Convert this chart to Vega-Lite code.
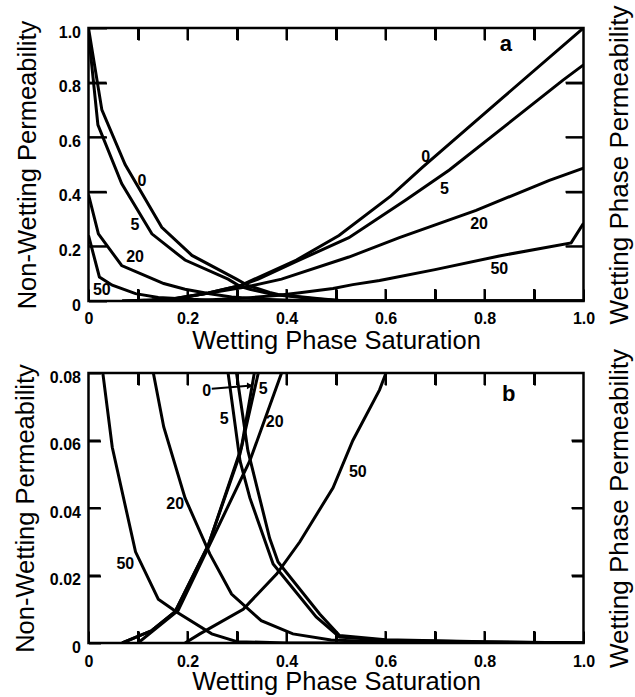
{
  "$schema": "https://vega.github.io/schema/vega-lite/v6.json",
  "padding": {"left": 11.5, "top": 3, "right": 0, "bottom": 0},
  "bounds": "flush",
  "spacing": 72,
  "config": {
    "font": "Liberation Sans",
    "view": {"stroke": "black", "strokeWidth": 2.5},
    "axis": {
      "domain": false, "grid": false,
      "labelFont": "Liberation Sans", "labelFontWeight": "bold", "labelFontSize": 16, "labelColor": "black",
      "titleFont": "Liberation Sans", "titleFontSize": 25.5, "titleFontWeight": "normal", "titleColor": "black",
      "labelOverlap": false, "labelFlush": false
    }
  },
  "datasets": {
    "curves": [
      {"s": "nw0", "x": 0, "y": 1.0}, {"s": "nw0", "x": 0.027, "y": 0.70}, {"s": "nw0", "x": 0.074, "y": 0.50}, {"s": "nw0", "x": 0.148, "y": 0.27}, {"s": "nw0", "x": 0.209, "y": 0.167}, {"s": "nw0", "x": 0.299, "y": 0.08}, {"s": "nw0", "x": 0.322, "y": 0.057}, {"s": "nw0", "x": 0.366, "y": 0.031}, {"s": "nw0", "x": 0.383, "y": 0.024}, {"s": "nw0", "x": 0.467, "y": 0.0086}, {"s": "nw0", "x": 0.507, "y": 0.0022}, {"s": "nw0", "x": 0.6, "y": 0.001}, {"s": "nw0", "x": 0.8, "y": 0.0004}, {"s": "nw0", "x": 1.0, "y": 0},
      {"s": "nw5", "x": 0, "y": 0.98}, {"s": "nw5", "x": 0.019, "y": 0.645}, {"s": "nw5", "x": 0.067, "y": 0.43}, {"s": "nw5", "x": 0.128, "y": 0.246}, {"s": "nw5", "x": 0.195, "y": 0.15}, {"s": "nw5", "x": 0.282, "y": 0.08}, {"s": "nw5", "x": 0.306, "y": 0.054}, {"s": "nw5", "x": 0.326, "y": 0.043}, {"s": "nw5", "x": 0.373, "y": 0.0234}, {"s": "nw5", "x": 0.46, "y": 0.0077}, {"s": "nw5", "x": 0.507, "y": 0.0018}, {"s": "nw5", "x": 0.6, "y": 0.0008}, {"s": "nw5", "x": 0.8, "y": 0.0003}, {"s": "nw5", "x": 1.0, "y": 0},
      {"s": "nw20", "x": 0, "y": 0.39}, {"s": "nw20", "x": 0.02, "y": 0.246}, {"s": "nw20", "x": 0.067, "y": 0.13}, {"s": "nw20", "x": 0.131, "y": 0.08}, {"s": "nw20", "x": 0.152, "y": 0.064}, {"s": "nw20", "x": 0.195, "y": 0.043}, {"s": "nw20", "x": 0.245, "y": 0.0264}, {"s": "nw20", "x": 0.289, "y": 0.0145}, {"s": "nw20", "x": 0.349, "y": 0.0066}, {"s": "nw20", "x": 0.413, "y": 0.0027}, {"s": "nw20", "x": 0.49, "y": 0.0009}, {"s": "nw20", "x": 0.6, "y": 0.0003}, {"s": "nw20", "x": 1.0, "y": 0},
      {"s": "nw50", "x": 0, "y": 0.24}, {"s": "nw50", "x": 0.022, "y": 0.088}, {"s": "nw50", "x": 0.048, "y": 0.058}, {"s": "nw50", "x": 0.095, "y": 0.027}, {"s": "nw50", "x": 0.141, "y": 0.013}, {"s": "nw50", "x": 0.178, "y": 0.0092}, {"s": "nw50", "x": 0.249, "y": 0.0027}, {"s": "nw50", "x": 0.30, "y": 0.0004}, {"s": "nw50", "x": 0.4, "y": 0}, {"s": "nw50", "x": 1.0, "y": 0},
      {"s": "w0", "x": 0.068, "y": 0}, {"s": "w0", "x": 0.128, "y": 0.0037}, {"s": "w0", "x": 0.175, "y": 0.0093}, {"s": "w0", "x": 0.242, "y": 0.029}, {"s": "w0", "x": 0.309, "y": 0.058}, {"s": "w0", "x": 0.335, "y": 0.08}, {"s": "w0", "x": 0.42, "y": 0.15}, {"s": "w0", "x": 0.506, "y": 0.24}, {"s": "w0", "x": 0.611, "y": 0.385}, {"s": "w0", "x": 0.675, "y": 0.49}, {"s": "w0", "x": 0.837, "y": 0.745}, {"s": "w0", "x": 1.0, "y": 1.0},
      {"s": "w5", "x": 0.068, "y": 0}, {"s": "w5", "x": 0.128, "y": 0.0037}, {"s": "w5", "x": 0.175, "y": 0.0093}, {"s": "w5", "x": 0.242, "y": 0.029}, {"s": "w5", "x": 0.306, "y": 0.056}, {"s": "w5", "x": 0.343, "y": 0.08}, {"s": "w5", "x": 0.42, "y": 0.145}, {"s": "w5", "x": 0.526, "y": 0.232}, {"s": "w5", "x": 0.641, "y": 0.37}, {"s": "w5", "x": 0.729, "y": 0.48}, {"s": "w5", "x": 0.958, "y": 0.808}, {"s": "w5", "x": 1.0, "y": 0.865},
      {"s": "w20", "x": 0.1, "y": 0}, {"s": "w20", "x": 0.181, "y": 0.0096}, {"s": "w20", "x": 0.241, "y": 0.028}, {"s": "w20", "x": 0.326, "y": 0.054}, {"s": "w20", "x": 0.39, "y": 0.08}, {"s": "w20", "x": 0.526, "y": 0.161}, {"s": "w20", "x": 0.628, "y": 0.232}, {"s": "w20", "x": 0.783, "y": 0.332}, {"s": "w20", "x": 0.931, "y": 0.442}, {"s": "w20", "x": 1.0, "y": 0.487},
      {"s": "w50", "x": 0.195, "y": 0}, {"s": "w50", "x": 0.225, "y": 0.0027}, {"s": "w50", "x": 0.3125, "y": 0.01}, {"s": "w50", "x": 0.38, "y": 0.0204}, {"s": "w50", "x": 0.427, "y": 0.03}, {"s": "w50", "x": 0.494, "y": 0.046}, {"s": "w50", "x": 0.534, "y": 0.06}, {"s": "w50", "x": 0.588, "y": 0.075}, {"s": "w50", "x": 0.601, "y": 0.08}, {"s": "w50", "x": 0.7, "y": 0.115}, {"s": "w50", "x": 0.83, "y": 0.165}, {"s": "w50", "x": 0.975, "y": 0.213}, {"s": "w50", "x": 1.0, "y": 0.285}
    ],
    "labA": [
      {"t": "0", "x": 0.108, "y": 0.44}, {"t": "5", "x": 0.094, "y": 0.277}, {"t": "20", "x": 0.094, "y": 0.16}, {"t": "50", "x": 0.027, "y": 0.039},
      {"t": "0", "x": 0.681, "y": 0.527}, {"t": "5", "x": 0.719, "y": 0.411}, {"t": "20", "x": 0.789, "y": 0.283}, {"t": "50", "x": 0.83, "y": 0.118}
    ],
    "tagA": [{"t": "a", "x": 0.843, "y": 0.943}],
    "labB": [
      {"t": "0", "x": 0.239, "y": 0.0748}, {"t": "5", "x": 0.353, "y": 0.0753}, {"t": "5", "x": 0.274, "y": 0.0664}, {"t": "20", "x": 0.376, "y": 0.0654},
      {"t": "20", "x": 0.175, "y": 0.0412}, {"t": "50", "x": 0.0744, "y": 0.0234}, {"t": "50", "x": 0.544, "y": 0.0506}
    ],
    "tagB": [{"t": "b", "x": 0.849, "y": 0.0738}],
    "arrow": [{"x": 0.249, "y": 0.0753}, {"x": 0.33, "y": 0.0763}],
    "arrowHead": [{"x": 0.326, "y": 0.0762}],
    "xt": [{"v": 0.1}, {"v": 0.2}, {"v": 0.3}, {"v": 0.4}, {"v": 0.5}, {"v": 0.6}, {"v": 0.7}, {"v": 0.8}, {"v": 0.9}],
    "ytA": [{"v": 0.2}, {"v": 0.4}, {"v": 0.6}, {"v": 0.8}],
    "ytB": [{"v": 0.02}, {"v": 0.04}, {"v": 0.06}]
  },
  "vconcat": [
    {
      "width": 495, "height": 273,
      "layer": [
        {
          "data": {"name": "curves"},
          "mark": {"type": "line", "color": "black", "strokeWidth": 3, "clip": true},
          "encoding": {
            "x": {"field": "x", "type": "quantitative", "scale": {"domain": [0, 1], "nice": false},
              "axis": {"orient": "bottom", "values": [0, 0.1, 0.2, 0.3, 0.4, 0.5, 0.6, 0.7, 0.8, 0.9, 1],
                "labelExpr": "round(datum.value*10)%2==0 ? (datum.value==0 ? '0' : format(datum.value,'.1f')) : ''",
                "ticks": true, "tickColor": "black", "tickWidth": 2,
                "offset": -12, "tickSize": 12, "labelPadding": 9, "title": "Wetting Phase Saturation", "titleY": 59, "titleBaseline": "alphabetic"}},
            "y": {"field": "y", "type": "quantitative", "scale": {"domain": [0, 1], "nice": false},
              "axis": {"orient": "left", "values": [0, 0.2, 0.4, 0.6, 0.8, 1],
                "labelExpr": "datum.value==0 ? '0' : format(datum.value,'.1f')",
                "ticks": true, "tickColor": "black", "tickWidth": 2,
                "offset": -18, "tickSize": 18, "labelPadding": 8, "labelOffset": 4,
                "title": "Non-Wetting Permeability", "titleX": -79, "titleAngle": 270, "titleBaseline": "middle"}},
            "detail": {"field": "s"},
            "order": {"field": "x"}
          }
        },
        {
          "data": {"name": "labA"},
          "mark": {"type": "text", "font": "Liberation Sans", "fontWeight": "bold", "fontSize": 16, "color": "black"},
          "encoding": {
            "x": {"field": "x", "type": "quantitative", "scale": {"domain": [0, 1], "nice": false},
              "axis": {"orient": "top", "values": [0.1, 0.2, 0.3, 0.4, 0.5, 0.6, 0.7, 0.8, 0.9], "labels": false,
                "ticks": true, "tickColor": "black", "tickWidth": 2,
                "offset": -12, "tickSize": 12, "title": null}},
            "y": {"field": "y", "type": "quantitative", "scale": {"domain": [0, 1], "nice": false},
              "axis": {"orient": "right", "values": [0.2, 0.4, 0.6, 0.8], "labels": false,
                "ticks": true, "tickColor": "black", "tickWidth": 2,
                "offset": -18, "tickSize": 18,
                "title": "Wetting Phase Permeability", "titleX": 54, "titleAngle": 270, "titleBaseline": "middle", "titleFontSize": 26}},
            "text": {"field": "t"}
          }
        },
        {
          "data": {"name": "tagA"},
          "mark": {"type": "text", "font": "Liberation Sans", "fontWeight": "bold", "fontSize": 22, "color": "black"},
          "encoding": {
            "x": {"field": "x", "type": "quantitative", "axis": null},
            "y": {"field": "y", "type": "quantitative", "axis": null},
            "text": {"field": "t"}
          }
        },
        {
          "data": {"name": "xt"},
          "mark": {"type": "point", "shape": "M-0.17,-1L0.17,-1L0.17,1L-0.17,1Z", "size": 144, "filled": true, "color": "black", "opacity": 1, "yOffset": -6},
          "encoding": {
            "x": {"field": "v", "type": "quantitative", "axis": null},
            "y": {"datum": 0, "type": "quantitative", "axis": null}
          }
        },
        {
          "data": {"name": "xt"},
          "mark": {"type": "point", "shape": "M-0.17,-1L0.17,-1L0.17,1L-0.17,1Z", "size": 144, "filled": true, "color": "black", "opacity": 1, "yOffset": 6},
          "encoding": {
            "x": {"field": "v", "type": "quantitative", "axis": null},
            "y": {"datum": 1, "type": "quantitative", "axis": null}
          }
        },
        {
          "data": {"name": "ytA"},
          "mark": {"type": "point", "shape": "M-1,-0.11L1,-0.11L1,0.11L-1,0.11Z", "size": 324, "filled": true, "color": "black", "opacity": 1, "xOffset": 9},
          "encoding": {
            "y": {"field": "v", "type": "quantitative", "axis": null},
            "x": {"datum": 0, "type": "quantitative", "axis": null}
          }
        },
        {
          "data": {"name": "ytA"},
          "mark": {"type": "point", "shape": "M-1,-0.11L1,-0.11L1,0.11L-1,0.11Z", "size": 324, "filled": true, "color": "black", "opacity": 1, "xOffset": -9},
          "encoding": {
            "y": {"field": "v", "type": "quantitative", "axis": null},
            "x": {"datum": 1, "type": "quantitative", "axis": null}
          }
        }
      ],
      "resolve": {"axis": {"x": "independent", "y": "independent"}}
    },
    {
      "width": 495, "height": 270,
      "layer": [
        {
          "data": {"name": "curves"},
          "mark": {"type": "line", "color": "black", "strokeWidth": 3, "clip": true},
          "encoding": {
            "x": {"field": "x", "type": "quantitative", "scale": {"domain": [0, 1], "nice": false},
              "axis": {"orient": "bottom", "values": [0, 0.1, 0.2, 0.3, 0.4, 0.5, 0.6, 0.7, 0.8, 0.9, 1],
                "labelExpr": "round(datum.value*10)%2==0 ? (datum.value==0 ? '0' : format(datum.value,'.1f')) : ''",
                "ticks": true, "tickColor": "black", "tickWidth": 2,
                "offset": -12, "tickSize": 12, "labelPadding": 10, "title": "Wetting Phase Saturation", "titleY": 58, "titleBaseline": "alphabetic"}},
            "y": {"field": "y", "type": "quantitative", "scale": {"domain": [0, 0.08], "nice": false},
              "axis": {"orient": "left", "values": [0, 0.02, 0.04, 0.06, 0.08],
                "labelExpr": "datum.value==0 ? '0' : format(datum.value,'.2f')",
                "ticks": true, "tickColor": "black", "tickWidth": 2,
                "offset": -12, "tickSize": 12, "labelPadding": 8, "labelOffset": 4,
                "title": "Non-Wetting Permeability", "titleX": -75, "titleAngle": 270, "titleBaseline": "middle"}},
            "detail": {"field": "s"},
            "order": {"field": "x"}
          }
        },
        {
          "data": {"name": "labB"},
          "mark": {"type": "text", "font": "Liberation Sans", "fontWeight": "bold", "fontSize": 16, "color": "black"},
          "encoding": {
            "x": {"field": "x", "type": "quantitative", "scale": {"domain": [0, 1], "nice": false},
              "axis": {"orient": "top", "values": [0.1, 0.2, 0.3, 0.4, 0.5, 0.6, 0.7, 0.8, 0.9], "labels": false,
                "ticks": true, "tickColor": "black", "tickWidth": 2,
                "offset": -12, "tickSize": 12, "title": null}},
            "y": {"field": "y", "type": "quantitative", "scale": {"domain": [0, 0.08], "nice": false},
              "axis": {"orient": "right", "values": [0.02, 0.04, 0.06], "labels": false,
                "ticks": true, "tickColor": "black", "tickWidth": 2,
                "offset": -12, "tickSize": 12,
                "title": "Wetting Phase Permeability", "titleX": 48, "titleAngle": 270, "titleBaseline": "middle", "titleFontSize": 26}},
            "text": {"field": "t"}
          }
        },
        {
          "data": {"name": "tagB"},
          "mark": {"type": "text", "font": "Liberation Sans", "fontWeight": "bold", "fontSize": 22, "color": "black"},
          "encoding": {
            "x": {"field": "x", "type": "quantitative", "axis": null},
            "y": {"field": "y", "type": "quantitative", "axis": null},
            "text": {"field": "t"}
          }
        },
        {
          "data": {"name": "arrow"},
          "mark": {"type": "line", "color": "black", "strokeWidth": 2},
          "encoding": {
            "x": {"field": "x", "type": "quantitative", "axis": null},
            "y": {"field": "y", "type": "quantitative", "axis": null}
          }
        },
        {
          "data": {"name": "arrowHead"},
          "mark": {"type": "point", "shape": "triangle-right", "filled": true, "color": "black", "size": 45, "opacity": 1},
          "encoding": {
            "x": {"field": "x", "type": "quantitative", "axis": null},
            "y": {"field": "y", "type": "quantitative", "axis": null}
          }
        },
        {
          "data": {"name": "xt"},
          "mark": {"type": "point", "shape": "M-0.17,-1L0.17,-1L0.17,1L-0.17,1Z", "size": 144, "filled": true, "color": "black", "opacity": 1, "yOffset": -6},
          "encoding": {
            "x": {"field": "v", "type": "quantitative", "axis": null},
            "y": {"datum": 0, "type": "quantitative", "axis": null}
          }
        },
        {
          "data": {"name": "xt"},
          "mark": {"type": "point", "shape": "M-0.17,-1L0.17,-1L0.17,1L-0.17,1Z", "size": 144, "filled": true, "color": "black", "opacity": 1, "yOffset": 6},
          "encoding": {
            "x": {"field": "v", "type": "quantitative", "axis": null},
            "y": {"datum": 0.08, "type": "quantitative", "axis": null}
          }
        },
        {
          "data": {"name": "ytB"},
          "mark": {"type": "point", "shape": "M-1,-0.17L1,-0.17L1,0.17L-1,0.17Z", "size": 144, "filled": true, "color": "black", "opacity": 1, "xOffset": 6},
          "encoding": {
            "y": {"field": "v", "type": "quantitative", "axis": null},
            "x": {"datum": 0, "type": "quantitative", "axis": null}
          }
        },
        {
          "data": {"name": "ytB"},
          "mark": {"type": "point", "shape": "M-1,-0.17L1,-0.17L1,0.17L-1,0.17Z", "size": 144, "filled": true, "color": "black", "opacity": 1, "xOffset": -6},
          "encoding": {
            "y": {"field": "v", "type": "quantitative", "axis": null},
            "x": {"datum": 1, "type": "quantitative", "axis": null}
          }
        }
      ],
      "resolve": {"axis": {"x": "independent", "y": "independent"}}
    }
  ]
}
